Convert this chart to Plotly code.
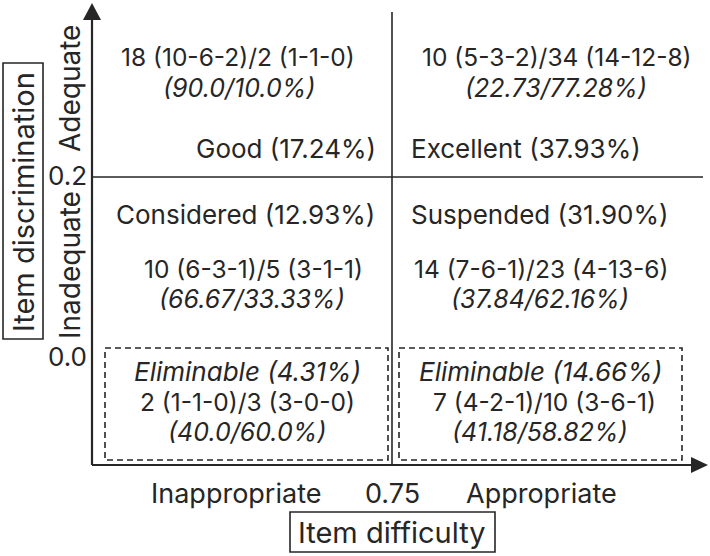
import plotly.graph_objects as go

# ---- data ----
difficulty_labels = ["Inappropriate", "Appropriate"]
difficulty_cut = "0.75"
discrimination_labels = ["Adequate", "Inadequate"]
discrimination_ticks = ["0.2", "0.0"]
x_title = "Item difficulty"
y_title = "Item discrimination"

quadrant_names = ["Good", "Excellent", "Considered", "Suspended", "Eliminable", "Eliminable"]
quadrant_shares = [17.24, 37.93, 12.93, 31.90, 4.31, 14.66]
quadrant_counts = ["18 (10-6-2)/2 (1-1-0)", "10 (5-3-2)/34 (14-12-8)",
                   "10 (6-3-1)/5 (3-1-1)", "14 (7-6-1)/23 (4-13-6)",
                   "2 (1-1-0)/3 (3-0-0)", "7 (4-2-1)/10 (3-6-1)"]
quadrant_ratios = ["90.0/10.0", "22.73/77.28", "66.67/33.33",
                   "37.84/62.16", "40.0/60.0", "41.18/58.82"]

# ---- layout (pixel frame) ----
W, H = 710, 556
FONT = "Inter"
FS_SHARE = 26
FS_COUNT = 24.5
FS_RATIO = 25
FS_LAB = 27
FS_TICK = 26
FS_ROT = 28
FS_TITLE = 29
TXT = "#262626"
LINE = "#262626"

ox, oy = 92, 465          # axes origin
xcut, ycut = 392, 177     # dividers
xend, ytop = 708, 3

fig = go.Figure()
fig.add_trace(go.Scatter(x=[0, W], y=[0, H], mode="markers",
                         marker=dict(opacity=0), hoverinfo="skip", showlegend=False))

shapes = []
def line(x0, y0, x1, y1, w=2):
    shapes.append(dict(type="line", x0=x0, y0=y0, x1=x1, y1=y1, xref="x", yref="y",
                       line=dict(color=LINE, width=w)))

# axes
line(ox, oy, ox, 16, w=2.2)
line(ox, oy, 694, oy, w=2.2)
shapes.append(dict(type="path", path=f"M {ox} {ytop} L {ox-9} 20 L {ox+9} 20 Z",
                   fillcolor=LINE, line=dict(color=LINE, width=0), xref="x", yref="y"))
shapes.append(dict(type="path", path=f"M {xend} {oy} L 691 {oy-8} L 691 {oy+8} Z",
                   fillcolor=LINE, line=dict(color=LINE, width=0), xref="x", yref="y"))
# dividers
line(xcut, 12, xcut, oy, w=1.6)
line(ox, ycut, 703, ycut, w=1.6)
# dashed boxes
for (x0, x1) in [(105, 388), (399, 682)]:
    shapes.append(dict(type="rect", x0=x0, x1=x1, y0=348, y1=460, xref="x", yref="y",
                       line=dict(color=LINE, width=1.6, dash="6px,4px")))
# title boxes
shapes.append(dict(type="rect", x0=3, x1=43, y0=63, y1=339, xref="x", yref="y",
                   line=dict(color=LINE, width=1.6)))
shapes.append(dict(type="rect", x0=290, x1=495, y0=512, y1=552, xref="x", yref="y",
                   line=dict(color=LINE, width=1.6)))

ann = []
def text(x, y, s, size, anchor="center", angle=0):
    ann.append(dict(x=x, y=y, xref="x", yref="y", text=s, showarrow=False,
                    xanchor=anchor, yanchor="middle", textangle=angle,
                    font=dict(family=FONT, size=size, color=TXT)))

def share(i, italic=False):
    s = f"{quadrant_names[i]} ({quadrant_shares[i]:.2f}%)"
    return f"<i>{s}</i>" if italic else s

def ratio(i):
    return f"<i>({quadrant_ratios[i]}%)</i>"

# top-left (Good)
text(238, 57, quadrant_counts[0], FS_COUNT); text(239, 88, ratio(0), FS_RATIO)
text(378, 148, share(0), FS_SHARE, anchor="right")
# top-right (Excellent)
text(557, 57, quadrant_counts[1], FS_COUNT); text(556, 88, ratio(1), FS_RATIO)
text(409, 148, share(1), FS_SHARE, anchor="left")
# middle-left (Considered)
text(377, 214, share(2), FS_SHARE, anchor="right")
text(253, 269, quadrant_counts[2], FS_COUNT); text(252, 299, ratio(2), FS_RATIO)
# middle-right (Suspended)
text(409, 214, share(3), FS_SHARE, anchor="left")
text(541, 269, quadrant_counts[3], FS_COUNT); text(540, 299, ratio(3), FS_RATIO)
# bottom eliminable boxes
text(247, 371, share(4, True), FS_SHARE); text(247, 402, quadrant_counts[4], FS_COUNT)
text(247, 432, ratio(4), FS_RATIO)
text(540, 371, share(5, True), FS_SHARE); text(544, 402, quadrant_counts[5], FS_COUNT)
text(540, 432, ratio(5), FS_RATIO)

# axis labels
text(236, 493, difficulty_labels[0], FS_LAB)
text(392, 493, difficulty_cut, FS_LAB)
text(541, 493, difficulty_labels[1], FS_LAB)
text(392, 532, x_title, FS_TITLE)
text(67, 175, discrimination_ticks[0], FS_TICK)
text(67, 356, discrimination_ticks[1], FS_TICK)
text(70, 89, discrimination_labels[0], FS_ROT, angle=-90)
text(70, 265, discrimination_labels[1], FS_ROT, angle=-90)
text(23, 202, y_title, FS_TITLE, angle=-90)

fig.update_layout(
    width=W, height=H, margin=dict(l=0, r=0, t=0, b=0),
    paper_bgcolor="white", plot_bgcolor="white",
    xaxis=dict(range=[0, W], visible=False, fixedrange=True),
    yaxis=dict(range=[H, 0], visible=False, fixedrange=True),
    shapes=shapes, annotations=ann, showlegend=False,
)
fig.write_html("out.html", config={"displayModeBar": False},
               post_script="document.body.style.margin='0';document.body.style.overflow='hidden';")
